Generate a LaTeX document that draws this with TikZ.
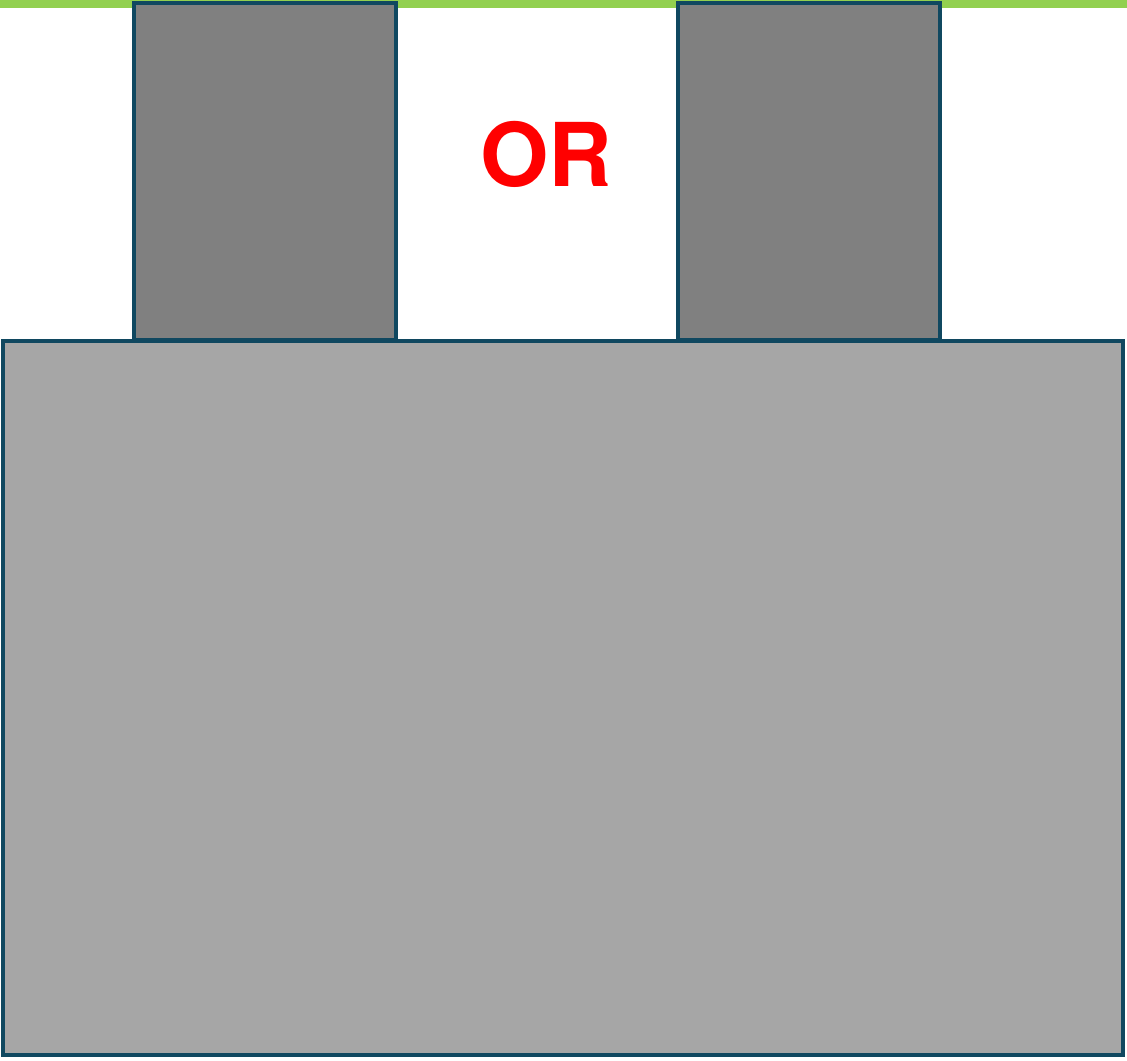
\documentclass[tikz,border=0pt]{standalone}
\usepackage{fontspec}
\setmainfont{TeX Gyre Heros}
\definecolor{slotEdge}{RGB}{16,72,96}
\definecolor{slotDark}{RGB}{128,128,128}
\definecolor{baseLight}{RGB}{166,166,166}
\definecolor{railGreen}{RGB}{146,208,80}
\usetikzlibrary{positioning}

\begin{document}
\begin{tikzpicture}[x=0.75pt, y=-0.75pt,
  block/.style={draw=slotEdge, line width=3pt, inner sep=0pt, outer sep=0pt, anchor=north west},
  pin/.style={block, fill=slotDark, minimum width=196.5pt, minimum height=252.75pt}
]
  \useasboundingbox (0,0) rectangle (1127,1060);
  \fill[railGreen] (0,0) rectangle (1127,8);

  \node[block, fill=baseLight, minimum width=840pt, minimum height=535.5pt] (base) at (3,341) {};
  \node[pin] (leftpin)  at (134,3) {};
  \node[pin] (rightpin) at (678,3) {};

  \node[text=red, font=\fontsize{66}{66}\selectfont\bfseries] (or) at (546,154) {OR};
\end{tikzpicture}
\end{document}
